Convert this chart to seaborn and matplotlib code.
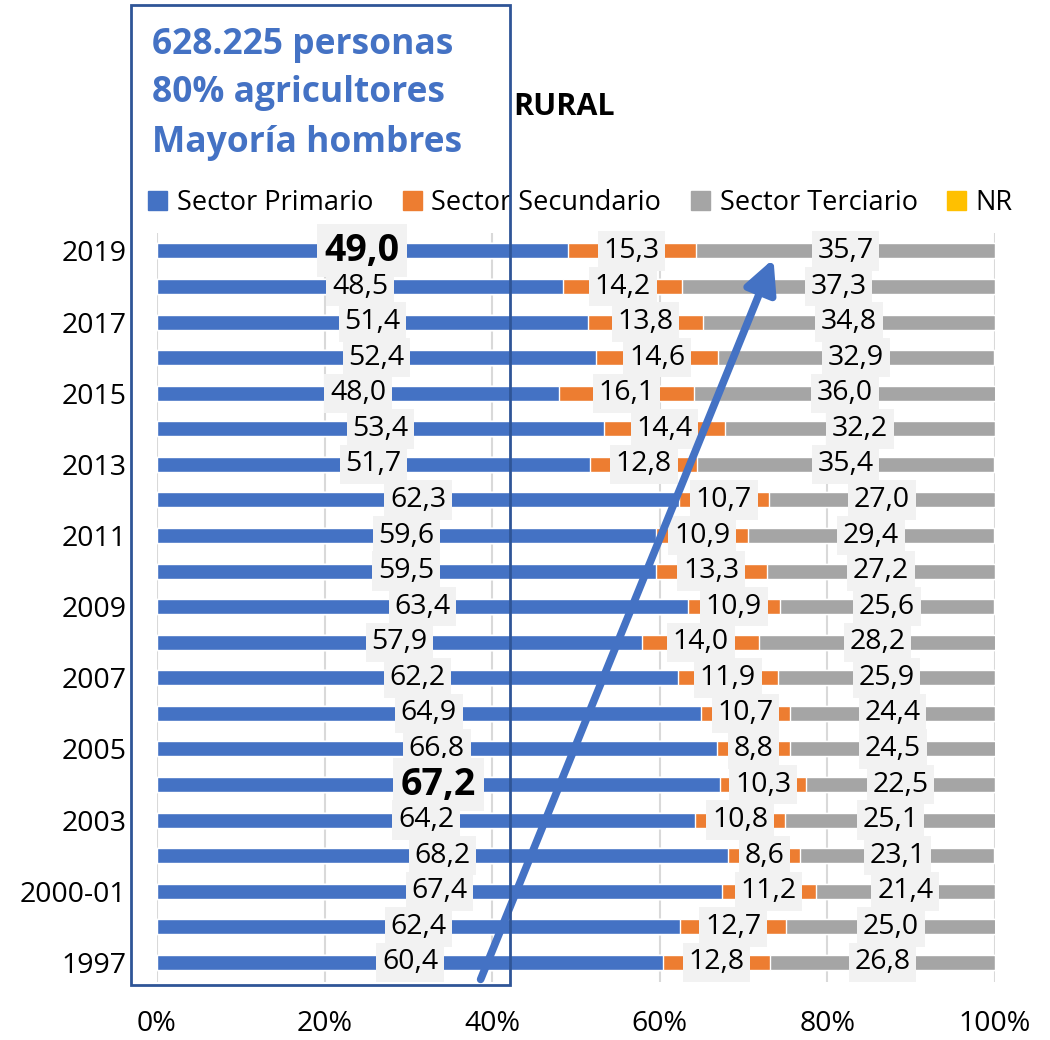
import pandas as pd
import matplotlib.pyplot as plt
import matplotlib.patches as mpatches
import seaborn as sns

# Data (percent of rural employed by sector)
years = ['2019', '2018', '2017', '2016', '2015', '2014', '2013', '2012', '2011', '2010',
         '2009', '2008', '2007', '2006', '2005', '2004', '2003', '2002', '2000-01', '1999', '1997']
primario = [49.0, 48.5, 51.4, 52.4, 48.0, 53.4, 51.7, 62.3, 59.6, 59.5,
            63.4, 57.9, 62.2, 64.9, 66.8, 67.2, 64.2, 68.2, 67.4, 62.4, 60.4]
secundario = [15.3, 14.2, 13.8, 14.6, 16.1, 14.4, 12.8, 10.7, 10.9, 13.3,
              10.9, 14.0, 11.9, 10.7, 8.8, 10.3, 10.8, 8.6, 11.2, 12.7, 12.8]
terciario = [35.7, 37.3, 34.8, 32.9, 36.0, 32.2, 35.4, 27.0, 29.4, 27.2,
             25.6, 28.2, 25.9, 24.4, 24.5, 22.5, 25.1, 23.1, 21.4, 25.0, 26.8]
nr = [0.0, 0.0, 0.2, 0.1, 0.0, 0.1, 0.1, 0.0, 0.2, 0.0,
      0.2, 0.0, 0.0, 0.0, 0.0, 0.0, 0.0, 0.2, 0.1, 0.0, 0.0]
series_names = ['Sector Primario', 'Sector Secundario', 'Sector Terciario', 'NR']
colors = ['#4472C4', '#ED7D31', '#A5A5A5', '#FFC000']
bold_labels = {('2019', 0), ('2004', 0)}

df = pd.DataFrame({'Año': years, 'P': primario, 'S': secundario, 'T': terciario, 'NR': nr})
df['c1'] = df['P']
df['c2'] = df['c1'] + df['S']
df['c3'] = df['c2'] + df['T']
df['c4'] = df['c3'] + df['NR']

sns.set_style('white')
plt.rcParams['font.family'] = ['Open Sans', 'DejaVu Sans']
plt.rcParams['text.color'] = 'black'
plt.rcParams['xtick.color'] = 'black'
plt.rcParams['ytick.color'] = 'black'

fig = plt.figure(figsize=(10.5, 10.4), dpi=100)
ax = fig.add_axes([0.1495, 0.0558, 0.798, 0.72])

# stacked bars: draw cumulative totals from the back to the front
for col, c in zip(['c4', 'c3', 'c2', 'c1'], colors[::-1]):
    sns.barplot(data=df, x=col, y='Año', order=years, orient='h', color=c,
                saturation=1, width=0.42, ax=ax, zorder=3)

# data labels
for i, row in df.iterrows():
    starts = [0, row['c1'], row['c2']]
    vals = [row['P'], row['S'], row['T']]
    for k, (s, v) in enumerate(zip(starts, vals)):
        bold = (row['Año'], k) in bold_labels
        ax.text(s + v / 2, i, f'{v:.1f}'.replace('.', ','), ha='center', va='center',
                fontsize=27 if bold else 20.5, fontweight='bold' if bold else 'normal',
                color='black', zorder=5,
                bbox=dict(boxstyle='square,pad=0.2', fc='#F2F2F2', ec='none'))

ax.set_xlim(0, 100)
ax.set_ylim(len(years) - 0.45, -0.5)
ax.set_xticks(range(0, 101, 20))
ax.set_xticklabels([f'{v}%' for v in range(0, 101, 20)], fontsize=20.5)
ax.set_yticks(range(len(years)))
ax.set_yticklabels([y if i % 2 == 0 else '' for i, y in enumerate(years)], fontsize=20.5)
ax.tick_params(axis='x', pad=20, length=0)
ax.tick_params(axis='y', pad=22, length=0)
ax.set_xlabel('')
ax.set_ylabel('')
ax.grid(axis='x', color='#D9D9D9', linewidth=1.5, zorder=0)
ax.set_axisbelow(True)
sns.despine(ax=ax, left=True, bottom=True)

# legend
handles = [mpatches.Patch(color=c, label=n) for c, n in zip(colors, series_names)]
fig.legend(handles=handles, loc='center', bbox_to_anchor=(0.553, 0.805), ncol=4,
           frameon=False, fontsize=19.5, handlelength=0.7, handleheight=0.7,
           handletextpad=0.35, columnspacing=1.1, labelcolor='black')

# title
fig.text(0.4886, 0.897, 'RURAL', fontsize=22, fontweight='bold', color='black',
         ha='left', va='center')

# highlight box with note
fig.patches.append(mpatches.Rectangle((131 / 1050, 1 - 985 / 1040), 379 / 1050, 980 / 1040,
                                      transform=fig.transFigure, fill=False,
                                      ec='#2F5597', lw=2, zorder=10))
for txt, yy in zip(['628.225 personas', '80% agricultores', 'Mayoría hombres'],
                   [0.9567, 0.9106, 0.8625]):
    fig.text(0.145, yy, txt, fontsize=25.5, fontweight='bold', color='#4472C4',
             ha='left', va='center')

# trend arrow
ax.annotate('', xy=(73.7, 0.15), xytext=(38.5, 20.55), xycoords='data',
            annotation_clip=False,
            arrowprops=dict(arrowstyle='-|>,head_length=0.9,head_width=0.45',
                            color='#4472C4', lw=5.5, mutation_scale=22), zorder=8)

plt.savefig('out.png', dpi=100)
